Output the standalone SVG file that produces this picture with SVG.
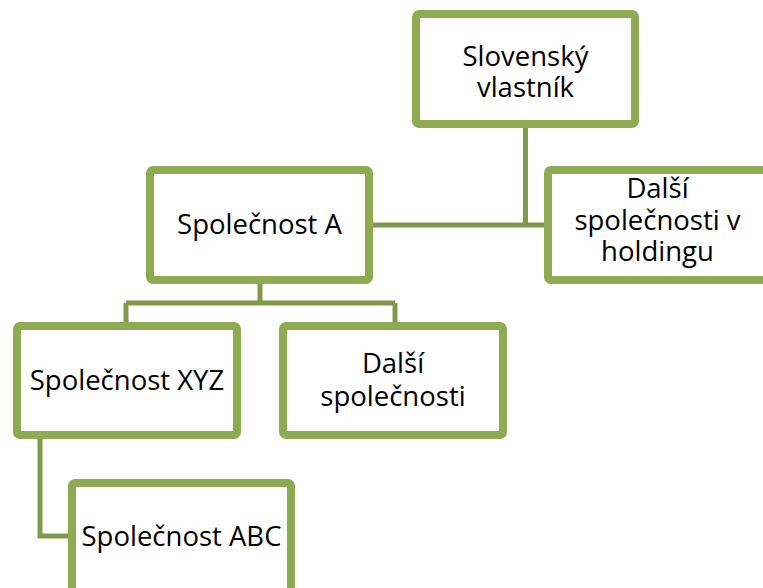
<svg xmlns="http://www.w3.org/2000/svg" width="763" height="588" viewBox="0 0 763 588">
<style>
.box{fill:#ffffff;stroke:#8eab51;stroke-width:8;stroke-linejoin:round}
.con{fill:none;stroke:#80994a;stroke-width:5}
.t{font-family:"Open Sans","Liberation Sans",sans-serif;font-size:27.5px;fill:#000;text-anchor:middle}
</style>
<rect width="763" height="588" fill="#ffffff"/>
<g id="connectors">
<path class="con" d="M525.5 124 V225 M369 225 H548"/>
<path class="con" d="M260 280 V303 M126 303 H395 M126 303 V326 M395 303 V326"/>
<path class="con" d="M40 435 V536 H72"/>
</g>
<g id="n1"><rect class="box" x="416" y="14" width="219" height="110" rx="3"/>
<text class="t" x="525.5" y="66">Slovenský</text><text class="t" x="525.5" y="97">vlastník</text></g>
<g id="n2"><rect class="box" x="150" y="170" width="219" height="110" rx="3"/>
<text class="t" x="259.5" y="234">Společnost A</text></g>
<g id="n3"><rect class="box" x="548" y="170" width="219" height="110" rx="3"/>
<text class="t" x="657.5" y="198">Další</text><text class="t" x="657.5" y="230">společnosti v</text><text class="t" x="657.5" y="261">holdingu</text></g>
<g id="n4"><rect class="box" x="17" y="326" width="220" height="109" rx="3"/>
<text class="t" x="127" y="390">Společnost XYZ</text></g>
<g id="n5"><rect class="box" x="283" y="326" width="220" height="109" rx="3"/>
<text class="t" x="393" y="373">Další</text><text class="t" x="393" y="406">společnosti</text></g>
<g id="n6"><rect class="box" x="72" y="483" width="219" height="110" rx="3"/>
<text class="t" x="181.5" y="546">Společnost ABC</text></g>
</svg>
